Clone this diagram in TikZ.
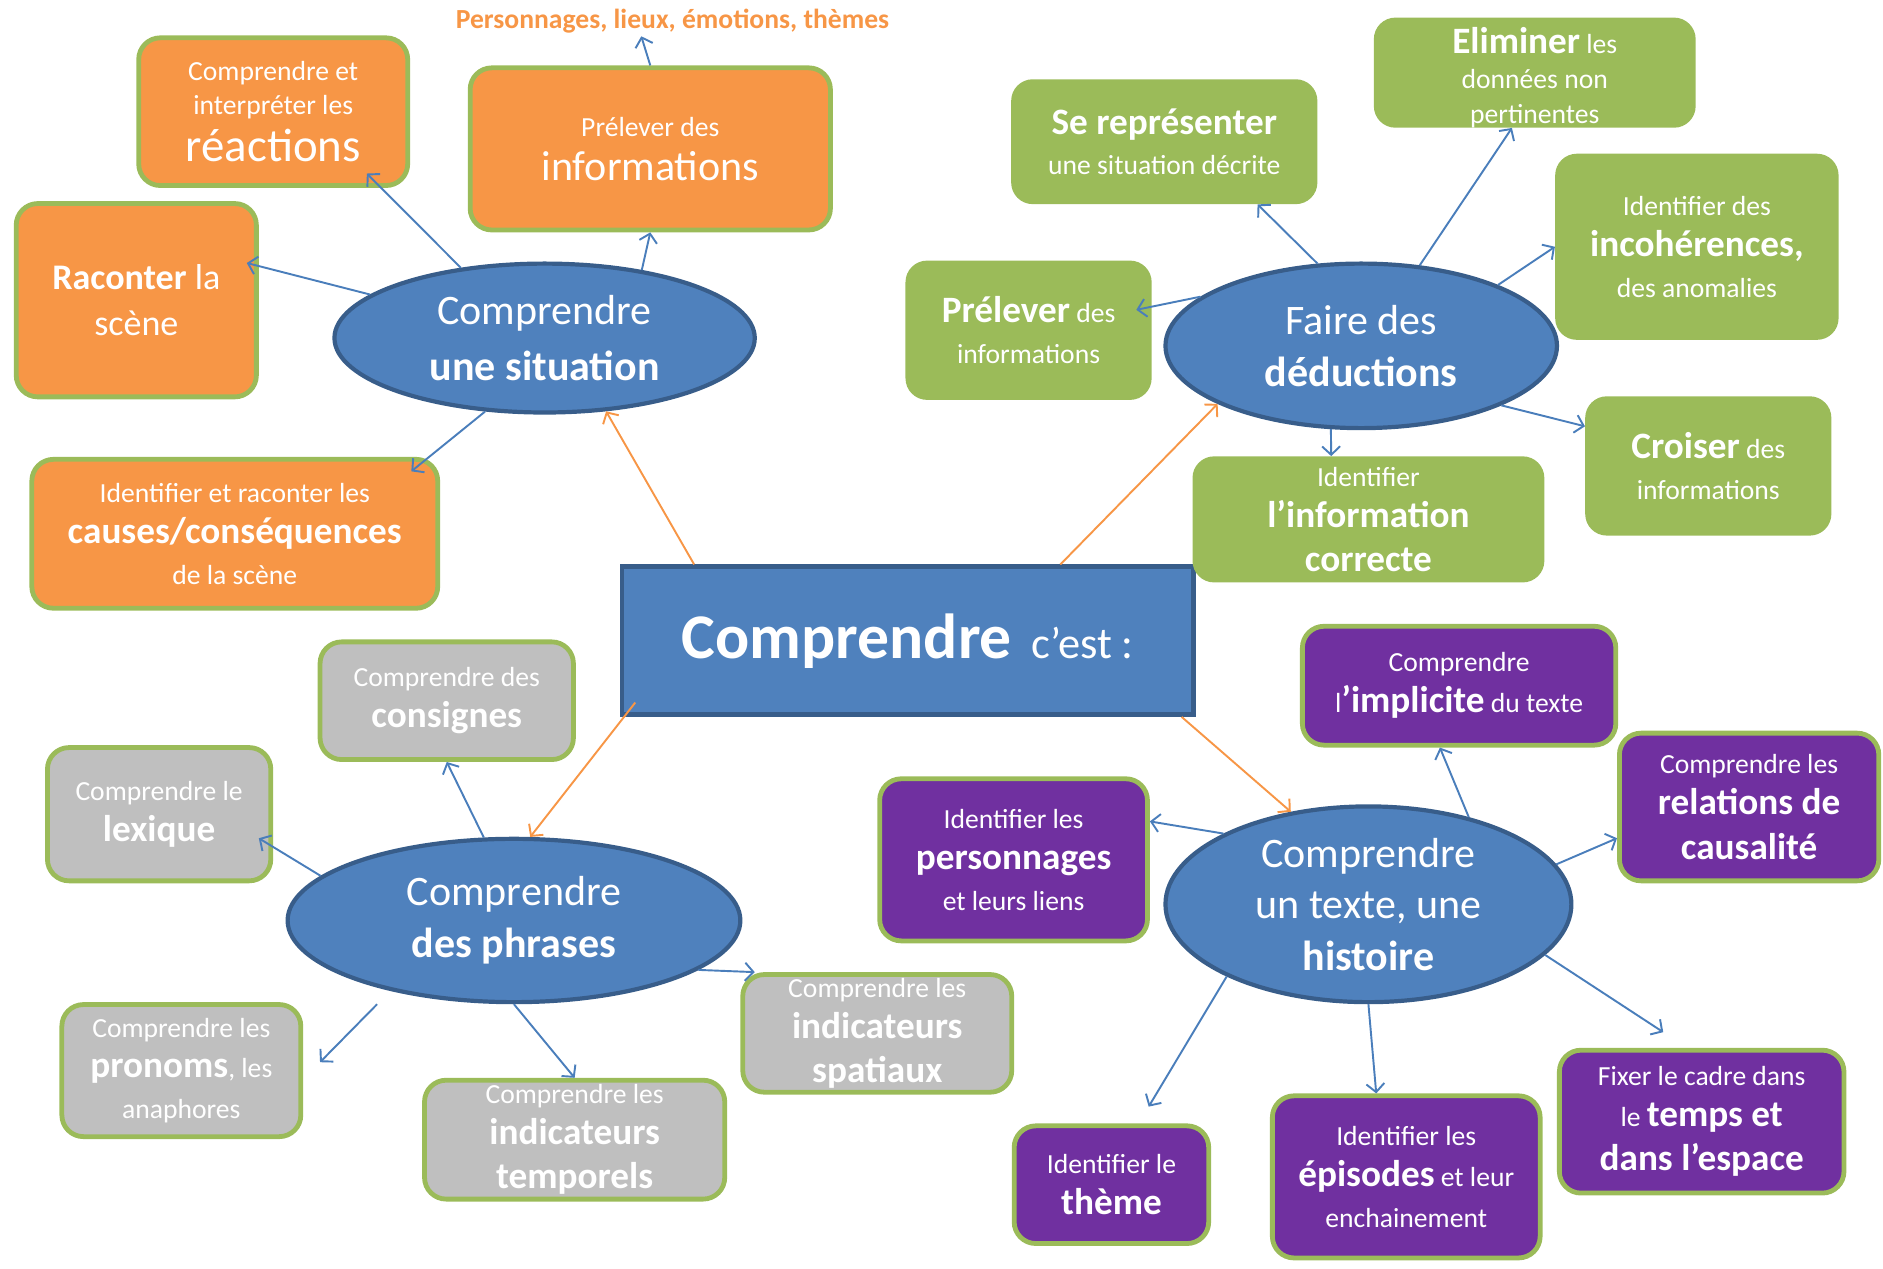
\documentclass[tikz,border=0pt]{standalone}
\usepackage{fontspec}
\setmainfont{Carlito}
\usepackage{xcolor}
\usepackage{tikz}
\usetikzlibrary{arrows.meta,shapes.geometric}

\definecolor{sitblue}{HTML}{4F81BD}
\definecolor{edgeblue}{HTML}{385D8A}
\definecolor{arrowblue}{HTML}{4A7EBB}
\definecolor{orangebox}{HTML}{F79646}
\definecolor{greenbox}{HTML}{9BBB59}
\definecolor{greybox}{HTML}{BFBFBF}
\definecolor{purplebox}{HTML}{7030A0}

\newcommand{\grand}[1]{{\fontsize{31}{34}\selectfont\bfseries #1}}

\begin{document}
\begin{tikzpicture}[x=1pt,y=-1pt,
    mapbox/.style={rectangle,rounded corners=18pt,inner sep=0pt,align=center,
        text=white,font=\fontsize{23}{34}\selectfont},
    obox/.style={mapbox,fill=orangebox,draw=greenbox,line width=4pt},
    gbox/.style={mapbox,fill=greenbox},
    grbox/.style={mapbox,fill=greybox,draw=greenbox,line width=4pt},
    pbox/.style={mapbox,fill=purplebox,draw=greenbox,line width=4pt},
    bubble/.style={ellipse,fill=sitblue,draw=edgeblue,line width=3.5pt,inner sep=0pt,
        align=center,text=white,font=\fontsize{35}{43}\selectfont},
    arr/.style={draw=arrowblue,line width=1.6pt,-{Straight Barb[length=7pt,width=15pt]}},
    oarr/.style={arr,draw=orangebox}]

    \useasboundingbox (0,0) rectangle (1568,1056);

    % Centre
    \node[rectangle,fill=sitblue,draw=edgeblue,line width=4pt,minimum width=476pt,
        minimum height=123pt,text=white,font=\fontsize{37}{44}\selectfont]
        (cen) at (756,533.5) {{\fontsize{53}{60}\selectfont\bfseries Comprendre}\hspace{16pt}c’est :};

    % Four ellipses
    \node[bubble,minimum width=350pt,minimum height=124pt,font=\fontsize{35}{47}\selectfont]
        (sit) at (453.5,281.5) {Comprendre\\\textbf{une situation}};
    \node[bubble,minimum width=326pt,minimum height=137pt] (ded) at (1133.5,288) {Faire des\\\textbf{déductions}};
    \node[bubble,minimum width=377pt,minimum height=136pt] (phr) at (428,766.5) {Comprendre\\\textbf{des phrases}};
    \node[bubble,minimum width=338pt,minimum height=163pt] (txt) at (1139.5,753) {Comprendre\\un texte, une\\\textbf{histoire}};

    % Situation boxes (orange)
    \node[obox,minimum width=224pt,minimum height=123pt,font=\fontsize{23}{28}\selectfont]
        (reac) at (227.5,93) {Comprendre et\\interpréter les\\[8pt]{\fontsize{39}{40}\selectfont réactions}};
    \node[obox,minimum width=300pt,minimum height=135pt] (info) at (541.5,124) {Prélever des\\[3pt]{\fontsize{35}{36}\selectfont informations}};
    \node[obox,minimum width=200pt,minimum height=161pt,font=\fontsize{30}{38}\selectfont]
        (racon) at (113.5,250) {\textbf{Raconter} la\\scène};
    \node[obox,minimum width=338pt,minimum height=124pt] (cause) at (195.5,444.5) {Identifier et raconter les\\\grand{causes/conséquences}\\de la scène};
    \node[text=orangebox,font=\fontsize{23}{26}\selectfont\bfseries,inner sep=2pt]
        (pers) at (560,18) {Personnages, lieux, émotions, thèmes};

    % Deduction boxes (green)
    \node[gbox,minimum width=255pt,minimum height=104pt] (repr) at (969.5,118) {\grand{Se représenter}\\une situation décrite};
    \node[gbox,minimum width=268pt,minimum height=91pt,font=\fontsize{23}{29}\selectfont]
        (elim) at (1278,60.5) {\rule{0pt}{30pt}\grand{Eliminer} les\\données non\\pertinentes};
    \node[gbox,minimum width=205pt,minimum height=116pt] (prel) at (856.5,275) {\grand{Prélever} des\\informations};
    \node[gbox,minimum width=236pt,minimum height=155pt] (incoh) at (1413,205.5) {Identifier des\\\grand{incohérences,}\\des anomalies};
    \node[gbox,minimum width=205pt,minimum height=116pt] (crois) at (1422.5,388) {\grand{Croiser} des\\informations};
    \node[gbox,minimum width=293pt,minimum height=105pt] (corr) at (1139.5,432.5) {Identifier\\\grand{l’information}\\[3pt]\grand{correcte}};

    % Sentence boxes (grey)
    \node[grbox,minimum width=211pt,minimum height=98pt] (consi) at (372,583.5) {Comprendre des\\\grand{consignes}};
    \node[grbox,minimum width=186pt,minimum height=111pt] (lexi) at (132.5,678) {Comprendre le\\\grand{lexique}};
    \node[grbox,minimum width=199pt,minimum height=110pt] (prono) at (151,891.5) {Comprendre les\\\grand{pronoms}, les\\anaphores};
    \node[grbox,minimum width=250pt,minimum height=99pt] (tempo) at (478.5,949) {Comprendre les\\\grand{indicateurs}\\[3pt]\grand{temporels}};
    \node[grbox,minimum width=224pt,minimum height=98pt] (spati) at (730.5,860.5) {Comprendre les\\\grand{indicateurs}\\[3pt]\grand{spatiaux}};

    % Text boxes (purple)
    \node[pbox,minimum width=261pt,minimum height=99pt] (impl) at (1215,571) {Comprendre\\l\grand{’implicite} du texte};
    \node[pbox,minimum width=216pt,minimum height=123pt] (causa) at (1456.5,672) {Comprendre les\\\grand{relations de}\\[3pt]\grand{causalité}};
    \node[pbox,minimum width=223pt,minimum height=135pt] (perso) at (844,716) {Identifier les\\\grand{personnages}\\et leurs liens};
    \node[pbox,minimum width=237pt,minimum height=119pt] (cadre) at (1417,934) {Fixer le cadre dans\\le \grand{temps et}\\[3pt]\grand{dans l’espace}};
    \node[pbox,minimum width=223pt,minimum height=135pt] (episo) at (1171,980) {Identifier les\\\grand{épisodes} et leur\\enchainement};
    \node[pbox,minimum width=162pt,minimum height=98pt] (theme) at (925.5,986.5) {Identifier le\\\grand{thème}};

    % Arrows: situation
    \draw[oarr] ([xshift=62pt]cen.north west) -- (sit.310);
    \draw[arr] (sit.140) -- ([xshift=-36pt,yshift=12pt]reac.south east);
    \draw[arr] (sit.166) -- ([xshift=-10pt,yshift=31pt]racon.east);
    \draw[arr] (sit.35) -- (info.south);
    \draw[arr] (sit.231) -- ([xshift=-24pt,yshift=-12pt]cause.north east);
    \draw[arr] (info.north) -- ([xshift=-26pt]pers.south);

    % Arrows: deductions
    \draw[oarr] ([xshift=-113pt]cen.north east) -- (ded.202);
    \draw[arr] (ded.118) -- ([xshift=-50pt]repr.south east);
    \draw[arr] (ded.163) -- ([xshift=-13pt,yshift=17pt]prel.east);
    \draw[arr] (ded.54) -- ([xshift=-19pt]elim.south);
    \draw[arr] (ded.24) -- (incoh.west);
    \draw[arr] (ded.-23) -- ([yshift=33pt]crois.west);
    \draw[arr] (ded.250) -- ([xshift=-31pt]corr.north);

    % Arrows: phrases
    \draw[oarr] ([xshift=13pt,yshift=12pt]cen.south west) -- (phr.79);
    \draw[arr] (phr.110) -- (consi.south);
    \draw[arr] (phr.167) -- ([xshift=-12pt,yshift=-20pt]lexi.east);
    \draw[arr] ([xshift=-114pt]phr.south) -- ([xshift=14pt,yshift=7pt]prono.east);
    \draw[arr] (phr.south) -- (tempo.north);
    \draw[arr] (phr.-15) -- ([xshift=12pt]spati.north west);

    % Arrows: texte
    \draw[oarr] ([xshift=-12pt]cen.south east) -- (txt.130);
    \draw[arr] (txt.41) -- ([xshift=-16pt]impl.south);
    \draw[arr] (txt.154) -- ([yshift=32pt]perso.east);
    \draw[arr] (txt.12) -- ([yshift=-26pt]causa.west);
    \draw[arr] (txt.-16) -- ([xshift=-32pt,yshift=13pt]cadre.north);
    \draw[arr] (txt.south) -- ([xshift=-25pt]episo.north);
    \draw[arr] (txt.207) -- ([xshift=31pt,yshift=14pt]theme.north);
\end{tikzpicture}
\end{document}
